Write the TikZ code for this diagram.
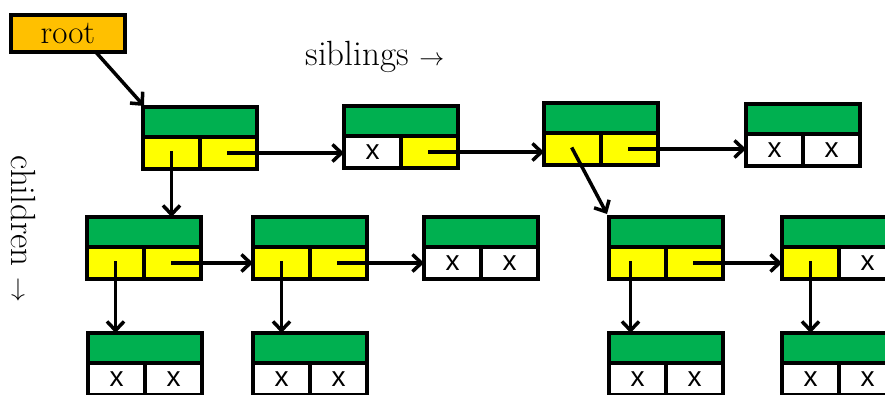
\documentclass[tikz,border=0pt]{standalone}
\usepackage{fontspec}
\newfontfamily\xfont{Liberation Sans}
\usetikzlibrary{arrows.meta,calc}
\definecolor{boxgreen}{RGB}{0,176,80}
\definecolor{boxyellow}{RGB}{255,255,0}
\definecolor{rootorange}{RGB}{255,192,0}
\tikzset{
  cellbase/.style={draw=black,line width=3.8pt,inner sep=0pt,outer sep=0pt,anchor=north west},
  topcell/.style={cellbase,fill=boxgreen,minimum width=114pt,minimum height=30pt},
  lowcell/.style={cellbase,minimum width=57pt,minimum height=32pt,font=\xfont\fontsize{28}{28}\selectfont},
  ptr/.style={line width=3.5pt,line cap=rect,-{Straight Barb[length=9pt,width=17pt,line width=3.5pt]}},
  rootbox/.style={draw=black,line width=3.8pt,fill=rootorange,minimum width=114pt,minimum height=37pt,inner sep=0pt,anchor=north west,font=\fontsize{33}{33}\selectfont},
  lbl/.style={font=\fontsize{35}{35}\selectfont}
}
% #1 name, #2 x, #3 y, #4 left fill, #5 left text, #6 right fill, #7 right text
\newcommand\listbox[7]{%
  \node[topcell] (#1-t) at (#2,#3) {};
  \node[lowcell,fill=#4] (#1-l) at (#2,#3+30) {#5};
  \node[lowcell,fill=#6] (#1-r) at (#2+57,#3+30) {#7};
  \draw[line width=3.8pt] (#1-t.north west) rectangle ($(#1-r.south east)$);
}
\begin{document}
\begin{tikzpicture}[x=1pt,y=-1pt]
\useasboundingbox (0,0) rectangle (885,394);
\node[rootbox] (root) at (9,13) {root};
\node[lbl,anchor=base] (sib) at (375,65) {siblings $\rightarrow$};
\node[lbl,rotate=-90] (chi) at (24,229) {children $\rightarrow$};

\listbox{b1}{143}{107}{boxyellow}{}{boxyellow}{}
\listbox{b2}{344}{106}{white}{x}{boxyellow}{}
\listbox{b3}{544}{103}{boxyellow}{}{boxyellow}{}
\listbox{b4}{746}{104}{white}{x}{white}{x}

\listbox{a}{87}{217}{boxyellow}{}{boxyellow}{}
\listbox{b}{253}{217}{boxyellow}{}{boxyellow}{}
\listbox{c}{424}{217}{white}{x}{white}{x}
\listbox{d}{609}{217}{boxyellow}{}{boxyellow}{}
\listbox{e}{782}{217}{boxyellow}{}{white}{x}

\listbox{ra}{88}{333}{white}{x}{white}{x}
\listbox{rb}{253}{333}{white}{x}{white}{x}
\listbox{rd}{609}{333}{white}{x}{white}{x}
\listbox{re}{782}{333}{white}{x}{white}{x}

\coordinate (dstart) at ($(d-l.center)+(-7,0)$);
\draw[ptr] ($(root.south west)!0.75!(root.south east)$) -- ($(b1-t.north west)+(1,-1)$);
\draw[ptr] (b1-l.center) -- (b1-l.center |- a-t.north);
\draw[ptr] (b1-r.center) -- (b1-r.center -| b2-l.west);
\draw[ptr] (b2-r.center) -- (b2-r.center -| b3-l.west);
\draw[ptr] (b3-r.center) -- (b3-r.center -| b4-l.west);
\draw[ptr] (b3-l.center) -- ($(d-t.north west)+(-2,-3)$);
\draw[ptr] (a-l.center) -- (a-l.center |- ra-t.north);
\draw[ptr] (a-r.center) -- (a-r.center -| b-l.west);
\draw[ptr] (b-l.center) -- (b-l.center |- rb-t.north);
\draw[ptr] (b-r.center) -- (b-r.center -| c-l.west);
\draw[ptr] (dstart) -- (dstart |- rd-t.north);
\draw[ptr] (d-r.center) -- (d-r.center -| e-l.west);
\draw[ptr] (e-l.center) -- (e-l.center |- re-t.north);
\end{tikzpicture}
\end{document}
